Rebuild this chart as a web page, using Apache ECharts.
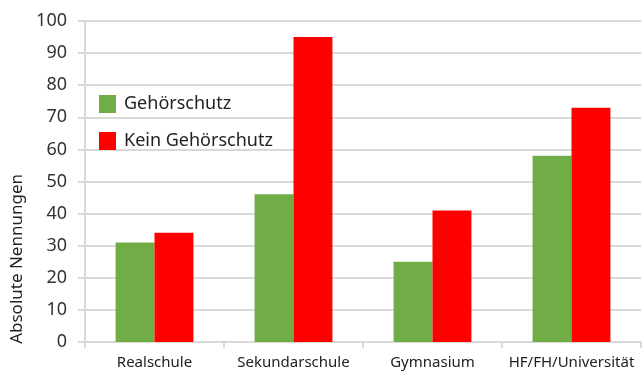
<!DOCTYPE html>
<html>
<head>
<meta charset="utf-8">
<script src="https://cdn.jsdelivr.net/npm/echarts@6/dist/echarts.min.js"></script>
<style>
html, body { margin: 0; padding: 0; background: #fff; }
#chart { width: 642px; height: 374px; }
</style>
</head>
<body>
<div id="chart"></div>
<script>
var schulen = ["Realschule", "Sekundarschule", "Gymnasium", "HF/FH/Universität"];
var mitSchutz = [31, 46, 25, 58];
var ohneSchutz = [34, 95, 41, 73];
var serienNamen = ["Gehörschutz", "Kein Gehörschutz"];

var chart = echarts.init(document.getElementById("chart"));
var font = "Noto Sans";
var grau = "#d9d9d9";

var option = {
  animation: false,
  textStyle: { fontFamily: font },
  grid: { left: 85, right: 1, top: 21, bottom: 32 },
  legend: {
    orient: "vertical",
    left: 94,
    top: 90,
    itemWidth: 17,
    itemHeight: 18,
    itemGap: 19,
    icon: "rect",
    textStyle: { fontSize: 18, color: "#222", fontFamily: font, padding: [0, 0, 0, 3] },
    data: serienNamen
  },
  graphic: [{
    type: "text",
    left: 9,
    top: 174,
    rotation: Math.PI / 2,
    style: { text: "Absolute Nennungen", font: "17px " + font, fill: "#222" }
  }],
  xAxis: {
    type: "category",
    data: schulen,
    axisLine: { lineStyle: { color: grau, width: 2 } },
    axisTick: { show: true, interval: 0, length: 6, lineStyle: { color: grau, width: 2 } },
    axisLabel: { interval: 0, fontSize: 15, color: "#222", margin: 13 }
  },
  yAxis: {
    type: "value",
    min: 0,
    max: 100,
    interval: 10,
    axisLine: { show: true, lineStyle: { color: grau, width: 2 } },
    axisTick: { show: true, length: 7, lineStyle: { color: grau, width: 2 } },
    axisLabel: { fontSize: 18, color: "#333", margin: 18 },
    splitLine: { lineStyle: { color: grau, width: 2 } }
  },
  series: [
    {
      name: serienNamen[0],
      type: "bar",
      data: mitSchutz,
      barGap: "0%",
      barCategoryGap: "44%",
      itemStyle: { color: "#70ad47" }
    },
    {
      name: serienNamen[1],
      type: "bar",
      data: ohneSchutz,
      itemStyle: { color: "#ff0000" }
    }
  ]
};
chart.setOption(option);
</script>
</body>
</html>
